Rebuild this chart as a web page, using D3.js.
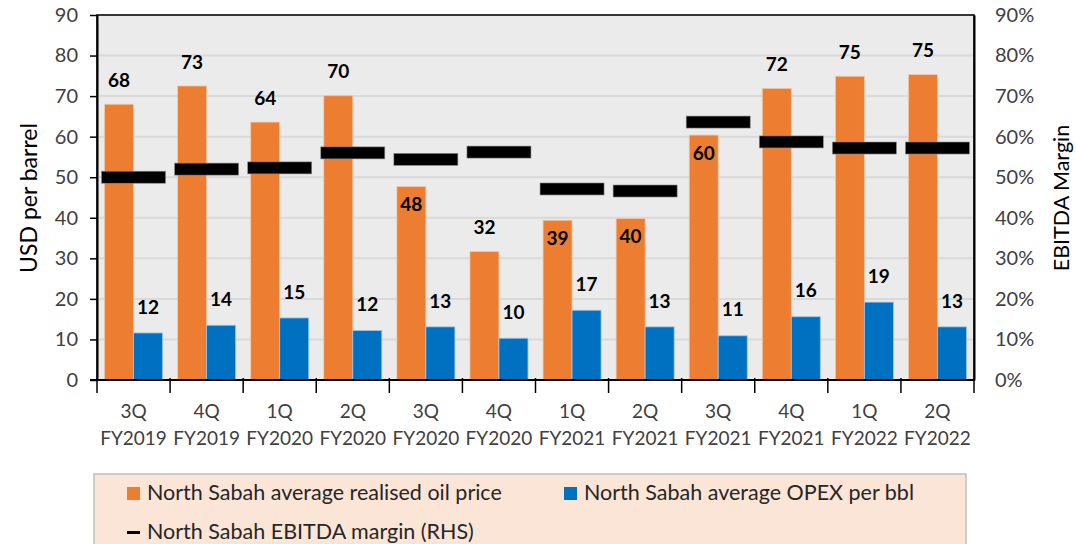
<!DOCTYPE html>
<html>
<head>
<meta charset="utf-8">
<script src="https://cdn.jsdelivr.net/npm/d3@7"></script>
<style>
  body { margin: 0; background: #fff; }
  text { font-family: Lato, "Open Sans", sans-serif; }
</style>
</head>
<body>
<div id="chart"></div>
<script>
// data
var quarters = ["3Q", "4Q", "1Q", "2Q", "3Q", "4Q", "1Q", "2Q", "3Q", "4Q", "1Q", "2Q"];
var years = ["FY2019", "FY2019", "FY2020", "FY2020", "FY2020", "FY2020", "FY2021", "FY2021", "FY2021", "FY2021", "FY2022", "FY2022"];
var oilPrice = [68.0, 72.5, 63.6, 70.1, 47.7, 31.7, 39.4, 39.8, 60.4, 71.9, 74.9, 75.3];
var opex = [11.6, 13.5, 15.3, 12.2, 13.1, 10.3, 17.2, 13.1, 10.9, 15.6, 19.2, 13.1];
var ebitdaMargin = [0.50, 0.52, 0.523, 0.56, 0.544, 0.562, 0.471, 0.466, 0.636, 0.587, 0.572, 0.572];
var leftTicks = [0, 10, 20, 30, 40, 50, 60, 70, 80, 90];
var rightTicks = [0, 0.1, 0.2, 0.3, 0.4, 0.5, 0.6, 0.7, 0.8, 0.9];

var svgWidth = 1076;
var svgHeight = 544;

var plot = { left: 97, right: 974, top: 15, bottom: 380 };

var svg = d3.select("#chart")
    .append("svg")
    .attr("width", svgWidth)
    .attr("height", svgHeight);

var ids = d3.range(quarters.length);

var x = d3.scaleBand()
    .domain(ids)
    .range([plot.left, plot.right]);

var xs = d3.scaleBand()
    .domain(["oil", "opex"])
    .range([0, x.bandwidth()])
    .paddingOuter(0.26);

var y = d3.scaleLinear().domain([0, 90]).range([plot.bottom, plot.top]);
var y2 = d3.scaleLinear().domain([0, 0.9]).range([plot.bottom, plot.top]);

// plot background
svg.append("rect")
    .attr("x", plot.left)
    .attr("y", plot.top)
    .attr("width", plot.right - plot.left)
    .attr("height", plot.bottom - plot.top)
    .attr("fill", "#ebebeb");

// gridlines
svg.append("g")
    .selectAll("line")
    .data(leftTicks.slice(1))
    .enter()
    .append("line")
    .attr("x1", plot.left)
    .attr("x2", plot.right)
    .attr("y1", d => y(d))
    .attr("y2", d => y(d))
    .attr("stroke", "#d9d9d9")
    .attr("stroke-width", 2);

// oil price bars
svg.append("g")
    .selectAll("rect")
    .data(ids)
    .enter()
    .append("rect")
    .attr("x", i => x(i) + xs("oil"))
    .attr("y", i => y(oilPrice[i]))
    .attr("width", xs.bandwidth())
    .attr("height", i => y(0) - y(oilPrice[i]))
    .attr("fill", "#ed7d31")
    .attr("stroke", "#f6c8a6")
    .attr("stroke-width", 0.8);

// opex bars
svg.append("g")
    .selectAll("rect")
    .data(ids)
    .enter()
    .append("rect")
    .attr("x", i => x(i) + xs("opex"))
    .attr("y", i => y(opex[i]))
    .attr("width", xs.bandwidth())
    .attr("height", i => y(0) - y(opex[i]))
    .attr("fill", "#0070c0")
    .attr("stroke", "#9cc3e6")
    .attr("stroke-width", 0.8);

// ebitda margin dashes
var dashW = 64, dashH = 12;
svg.append("g")
    .selectAll("rect")
    .data(ids)
    .enter()
    .append("rect")
    .attr("x", i => x(i) + x.bandwidth() / 2 - dashW / 2)
    .attr("y", i => y2(ebitdaMargin[i]) - dashH / 2)
    .attr("width", dashW)
    .attr("height", dashH)
    .attr("fill", "#000")
    .attr("stroke", "#888")
    .attr("stroke-width", 0.6);

// oil labels: above the bar unless they would run into the margin dash
svg.append("g")
    .selectAll("text")
    .data(ids)
    .enter()
    .append("text")
    .attr("x", i => x(i) + xs("oil") + xs.bandwidth() / 2)
    .attr("y", function(i) {
        var top = y(oilPrice[i]);
        var dash = y2(ebitdaMargin[i]);
        var above = top - 24;
        if (Math.abs(above - dash) < 20) return top + 18;
        return above;
    })
    .attr("dy", "0.35em")
    .attr("text-anchor", "middle")
    .style("font-size", "19px")
    .style("font-weight", "bold")
    .attr("fill", "#000")
    .text(i => d3.format(".0f")(oilPrice[i]));

svg.append("g")
    .selectAll("text")
    .data(ids)
    .enter()
    .append("text")
    .attr("x", i => x(i) + xs("opex") + xs.bandwidth() / 2)
    .attr("y", i => y(opex[i]) - 26)
    .attr("dy", "0.35em")
    .attr("text-anchor", "middle")
    .style("font-size", "19px")
    .style("font-weight", "bold")
    .attr("fill", "#000")
    .text(i => d3.format(".0f")(opex[i]));

// plot frame
svg.append("rect")
    .attr("x", plot.left)
    .attr("y", plot.top)
    .attr("width", plot.right - plot.left)
    .attr("height", plot.bottom - plot.top)
    .attr("fill", "none")
    .attr("stroke", "#000")
    .attr("stroke-width", 1.5);

// left axis
var leftAxis = svg.append("g")
    .attr("transform", `translate(${plot.left},0)`)
    .call(d3.axisLeft(y).tickValues(leftTicks).tickSize(7).tickPadding(12).tickSizeOuter(0));
leftAxis.select(".domain").attr("stroke", "#000").attr("stroke-width", 2);
leftAxis.selectAll(".tick line").attr("stroke", "#000").attr("stroke-width", 1.5);
leftAxis.selectAll("text")
    .style("font-size", "20px")
    .style("font-family", "Lato, sans-serif")
    .attr("fill", "#404040");

// right axis
var rightAxis = svg.append("g")
    .attr("transform", `translate(${plot.right},0)`)
    .call(d3.axisRight(y2).tickValues(rightTicks).tickFormat(d3.format(".0%")).tickSize(0).tickPadding(21));
rightAxis.select(".domain").attr("stroke", "#000").attr("stroke-width", 2);
rightAxis.selectAll("text")
    .style("font-size", "20px")
    .style("font-family", "Lato, sans-serif")
    .attr("fill", "#404040");

// bottom axis: ticks at category boundaries
var bottom = svg.append("g");
bottom.append("line")
    .attr("x1", plot.left - 7)
    .attr("x2", plot.right)
    .attr("y1", plot.bottom)
    .attr("y2", plot.bottom)
    .attr("stroke", "#000")
    .attr("stroke-width", 2);
bottom.selectAll(".btick")
    .data(d3.range(quarters.length + 1))
    .enter()
    .append("line")
    .attr("x1", i => plot.left + i * x.step())
    .attr("x2", i => plot.left + i * x.step())
    .attr("y1", plot.bottom - 2)
    .attr("y2", plot.bottom + 13)
    .attr("stroke", "#000")
    .attr("stroke-width", 1.5);

var catLabels = bottom.selectAll(".cat")
    .data(ids)
    .enter()
    .append("text")
    .attr("text-anchor", "middle")
    .style("font-size", "19px")
    .attr("fill", "#404040");
catLabels.append("tspan")
    .attr("x", i => x(i) + x.bandwidth() / 2)
    .attr("y", 418)
    .text(i => quarters[i]);
catLabels.append("tspan")
    .attr("x", i => x(i) + x.bandwidth() / 2)
    .attr("y", 445)
    .text(i => years[i]);

// axis titles
svg.append("text")
    .attr("transform", "translate(37,198) rotate(-90)")
    .attr("text-anchor", "middle")
    .style("font-size", "23px")
    .attr("fill", "#000")
    .text("USD per barrel");

svg.append("text")
    .attr("transform", "translate(1069,198) rotate(-90)")
    .attr("text-anchor", "middle")
    .style("font-size", "21.5px")
    .attr("fill", "#000")
    .text("EBITDA Margin");

// legend
var legend = svg.append("g");
legend.append("rect")
    .attr("x", 94)
    .attr("y", 474)
    .attr("width", 872)
    .attr("height", 80)
    .attr("fill", "#fbe5d6")
    .attr("stroke", "#bfbfbf")
    .attr("stroke-width", 1.5);

var legendItems = [
    { label: "North Sabah average realised oil price", color: "#ed7d31", type: "box", lx: 127, ly: 500 },
    { label: "North Sabah average OPEX per bbl", color: "#0070c0", type: "box", lx: 564, ly: 500 },
    { label: "North Sabah EBITDA margin (RHS)", color: "#000", type: "dash", lx: 127, ly: 539 }
];
legendItems.forEach(function(d) {
    if (d.type === "box") {
        legend.append("rect")
            .attr("x", d.lx)
            .attr("y", d.ly - 13)
            .attr("width", 13)
            .attr("height", 13)
            .attr("fill", d.color);
    } else {
        legend.append("rect")
            .attr("x", d.lx)
            .attr("y", d.ly - 8)
            .attr("width", 13)
            .attr("height", 3)
            .attr("fill", d.color);
    }
    legend.append("text")
        .attr("x", d.lx + 20)
        .attr("y", d.ly)
        .style("font-size", "21.5px")
        .attr("fill", "#262626")
        .text(d.label);
});
</script>
</body>
</html>
